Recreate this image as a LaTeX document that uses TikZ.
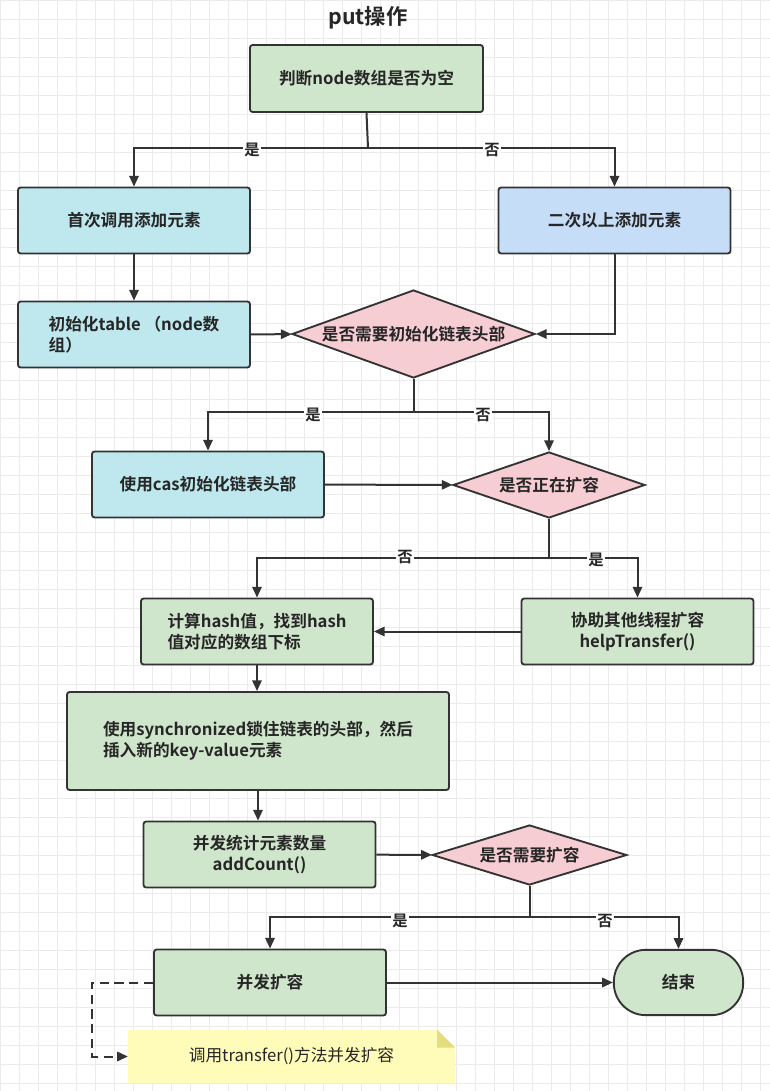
\documentclass[tikz,border=0pt]{standalone}
\usepackage{fontspec}
\setmainfont{Noto Sans CJK SC}[BoldFont={* Bold}]
\usetikzlibrary{shapes.geometric,arrows.meta}
\definecolor{gbox}{HTML}{D0E6CC}
\definecolor{cbox}{HTML}{BFE8EE}
\definecolor{bbox}{HTML}{C6DDF7}
\definecolor{pbox}{HTML}{F7CDD4}
\definecolor{ybox}{HTML}{FFFBB8}
\definecolor{ln}{HTML}{333333}
\begin{document}
\begin{tikzpicture}[x=0.75pt,y=-0.75pt,
  box/.style={draw=ln,line width=1.4pt,rounded corners=2pt,minimum width=174pt,minimum height=49.5pt,align=center,font=\bfseries\fontsize{12.5}{16}\selectfont,text=black!85,inner sep=2pt},
  dia/.style={draw=ln,line width=1.4pt,diamond,fill=pbox,inner sep=0pt,label={[font=\bfseries\fontsize{12.5}{16}\selectfont,text=black!85]center:#1}},
  ar/.style={draw=ln,line width=1.5pt,-{Triangle[length=8pt,width=7pt]}},
  lb/.style={fill=white,inner sep=1pt,font=\bfseries\fontsize{11.5}{14}\selectfont,text=black!85}]
\useasboundingbox (0,0) rectangle (770,1091);
\fill[white] (0,0) rectangle (770,1091);
\foreach \i in {0,19,...,770} \draw[black!8,line width=0.4pt] (\i,0) -- (\i,1091);
\foreach \i in {0,19,...,1091} \draw[black!8,line width=0.4pt] (0,\i) -- (770,\i);
\node[font=\bfseries\fontsize{16}{20}\selectfont,text=black!85] (t) at (368,18) {put操作};
\node[box,fill=gbox,minimum width=174.75pt,minimum height=50.25pt] (n1) at (366.5,78.5) {判断node数组是否为空};
\node[box,fill=cbox] (n2) at (134,220.5) {首次调用添加元素};
\node[box,fill=bbox] (n3) at (614.5,220.5) {二次以上添加元素};
\node[box,fill=cbox,align=left] (n4) at (134,334.5) {初始化table （node数\\组）};
\node[dia=是否需要初始化链表头部,minimum width=182.25pt,minimum height=66pt] (d1) at (413.5,334) {};
\node[box,fill=cbox] (n5) at (208,484.5) {使用cas初始化链表头部};
\node[dia=是否正在扩容,minimum width=144pt,minimum height=49.5pt] (d2) at (549,485) {};
\node[box,fill=gbox,align=left] (n6) at (257,631.5) {计算hash值，找到hash\\值对应的数组下标};
\node[box,fill=gbox] (n7) at (637.5,631.5) {协助其他线程扩容\\helpTransfer()};
\node[box,fill=gbox,minimum width=286.5pt,minimum height=73.5pt,align=left] (n8) at (258,741) {使用synchronized锁住链表的头部，然后\\插入新的key-value元素};
\node[box,fill=gbox] (n9) at (259.5,854.5) {并发统计元素数量\\addCount()};
\node[dia=是否需要扩容,minimum width=146pt,minimum height=45pt] (d3) at (529.5,855) {};
\node[box,fill=gbox] (n10) at (270,982.5) {并发扩容};
\node[box,fill=gbox,rounded corners=24pt,minimum width=97pt,minimum height=49pt] (e) at (678.5,982.5) {结束};
\node[fill=ybox,minimum width=245pt,minimum height=40pt,font=\fontsize{12.5}{16}\selectfont,text=black!85] (nt) at (291.5,1056.5) {调用transfer()方法并发扩容};
\fill[white] (nt.north east) -- ++(-18,0) -- ++(18,18) -- cycle;
\fill[yellow!45!olive!45] (nt.north east) ++(-18,0) -- ++(18,18) -- ++(-18,0) -- cycle;
% connectors
\coordinate (b1) at (368,148);
\draw[line width=1.5pt,draw=ln] (n1.south) -- (b1);
\draw[ar] (b1) -| (n2.north);
\draw[ar] (b1) -| (n3.north);
\node[lb] at (252,150) {是};
\node[lb] at (492,150) {否};
\draw[ar] (n2) -- (n4);
\draw[ar] (n4) -- (d1);
\draw[ar] (n3.south) |- (d1.east);
\coordinate (b2) at (413.5,412);
\draw[line width=1.5pt,draw=ln] (d1.south) -- (b2);
\draw[ar] (b2) -| (n5.north);
\draw[ar] (b2) -| (d2.north);
\node[lb] at (313,415) {是};
\node[lb] at (483,415) {否};
\draw[ar] (n5) -- (d2);
\coordinate (b3) at (549,558);
\draw[line width=1.5pt,draw=ln] (d2.south) -- (b3);
\draw[ar] (b3) -| (n6.north);
\draw[ar] (b3) -| (n7.north);
\node[lb] at (405,557) {否};
\node[lb] at (596,560) {是};
\draw[ar] (n7) -- (n6);
\draw[ar] (n6.south) -- (n6.south |- n8.north);
\draw[ar] (n8.south) -- (n8.south |- n9.north);
\draw[ar] (n9) -- (d3);
\coordinate (b4) at (529.5,917);
\draw[line width=1.5pt,draw=ln] (d3.south) -- (b4);
\draw[ar] (b4) -| (n10.north);
\draw[ar] (b4) -| (e.north);
\node[lb] at (400,921) {是};
\node[lb] at (605,921) {否};
\draw[ar] (n10) -- (e);
\coordinate (c1) at (92,982.5);
\draw[ar,dashed,dash pattern=on 7pt off 4pt] (n10.west) -- (c1) |- (nt.west);
\end{tikzpicture}
\end{document}
